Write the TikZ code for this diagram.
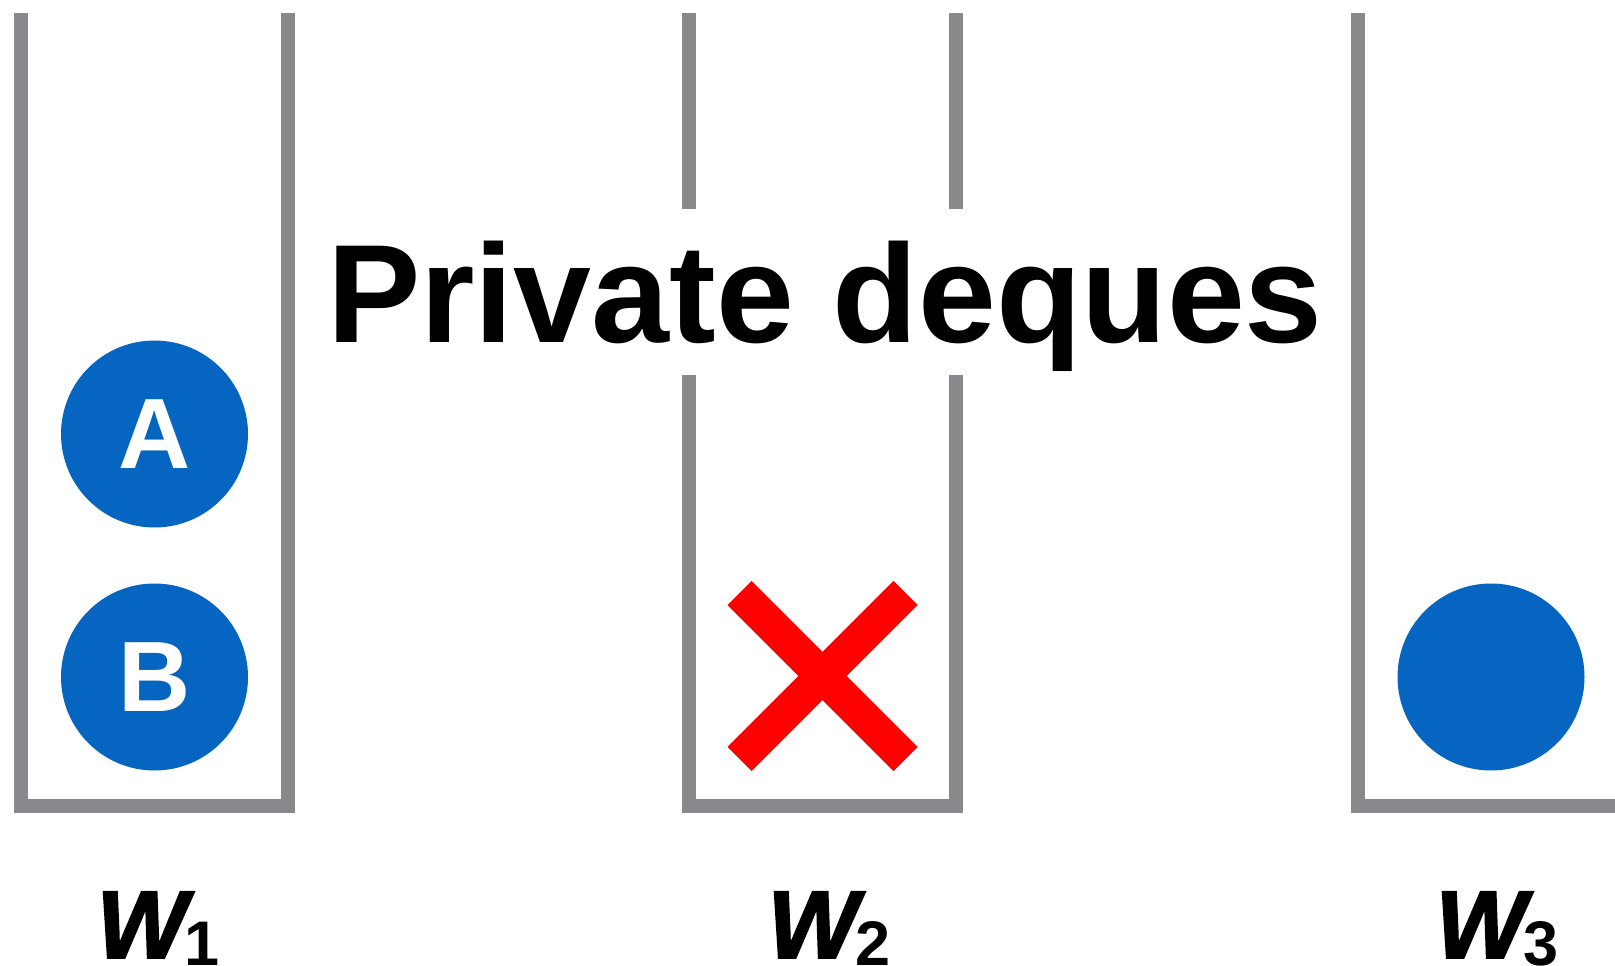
\documentclass[tikz,border=0pt]{standalone}
\usepackage{fontspec}
\setmainfont{Liberation Sans}
\newfontfamily\heavyfont{Liberation Sans}[BoldItalicFeatures={FakeBold=2}]
\definecolor{dqgray}{RGB}{135,137,140}
\definecolor{tokblue}{RGB}{5,101,192}
\definecolor{xred}{RGB}{255,0,0}
\newcommand\wlab[1]{{\heavyfont\fontsize{96}{96}\selectfont\bfseries\itshape W}\kern-3pt\raisebox{-7pt}{\fontsize{63}{63}\selectfont\bfseries #1}}
\begin{document}
\begin{tikzpicture}[x=1pt,y=-1pt,
  deque/.style={draw=dqgray,line width=14pt,line join=miter},
  token/.style={circle,fill=tokblue,minimum size=187pt,inner sep=0pt,text=white,font=\fontsize{100}{100}\selectfont\bfseries},
  titletext/.style={font=\fontsize{140}{140}\selectfont\bfseries,inner sep=0pt,anchor=base},
  wlabel/.style={inner sep=0pt,anchor=base},
  cross/.style={draw=xred,line width=34pt}]
\useasboundingbox (0,0) rectangle (1615,966);
\clip (0,0) rectangle (1615,966);
% deque 1
\coordinate (a1) at (21,13);
\coordinate (a2) at (21,806);
\coordinate (a3) at (288,806);
\coordinate (a4) at (288,13);
\draw[deque] (a1) -- (a2) -- (a3) -- (a4);
% deque 2
\coordinate (b0) at (689,13);
\coordinate (b0e) at (689,209);
\coordinate (b5) at (956,13);
\coordinate (b5e) at (956,209);
\coordinate (b1) at (689,375);
\coordinate (b2) at (689,806);
\coordinate (b3) at (956,806);
\coordinate (b4) at (956,375);
\draw[deque] (b0) -- (b0e);
\draw[deque] (b5) -- (b5e);
\draw[deque] (b1) -- (b2) -- (b3) -- (b4);
% deque 3
\coordinate (c1) at (1358,13);
\coordinate (c2) at (1358,806);
\coordinate (c3) at (1640,806);
\draw[deque] (c1) -- (c2) -- (c3);
% tokens
\node[token] (tA) at (154.5,434) {\raisebox{-2pt}{A}};
\node[token] (tB) at (154.5,677) {\raisebox{-1pt}{B}};
\node[token] (tC) at (1491,677) {};
% cross
\coordinate (x1) at (739.5,593);
\coordinate (x2) at (905.5,759);
\coordinate (x3) at (905.5,593);
\coordinate (x4) at (739.5,759);
\draw[cross] (x1) -- (x2);
\draw[cross] (x3) -- (x4);
% title
\node[titletext] (title) at (825,342) {Private deques};
% labels
\node[wlabel] (w1) at (158,958) {\wlab{1}};
\node[wlabel] (w2) at (829,958) {\wlab{2}};
\node[wlabel] (w3) at (1497,958) {\wlab{3}};
\end{tikzpicture}
\end{document}
